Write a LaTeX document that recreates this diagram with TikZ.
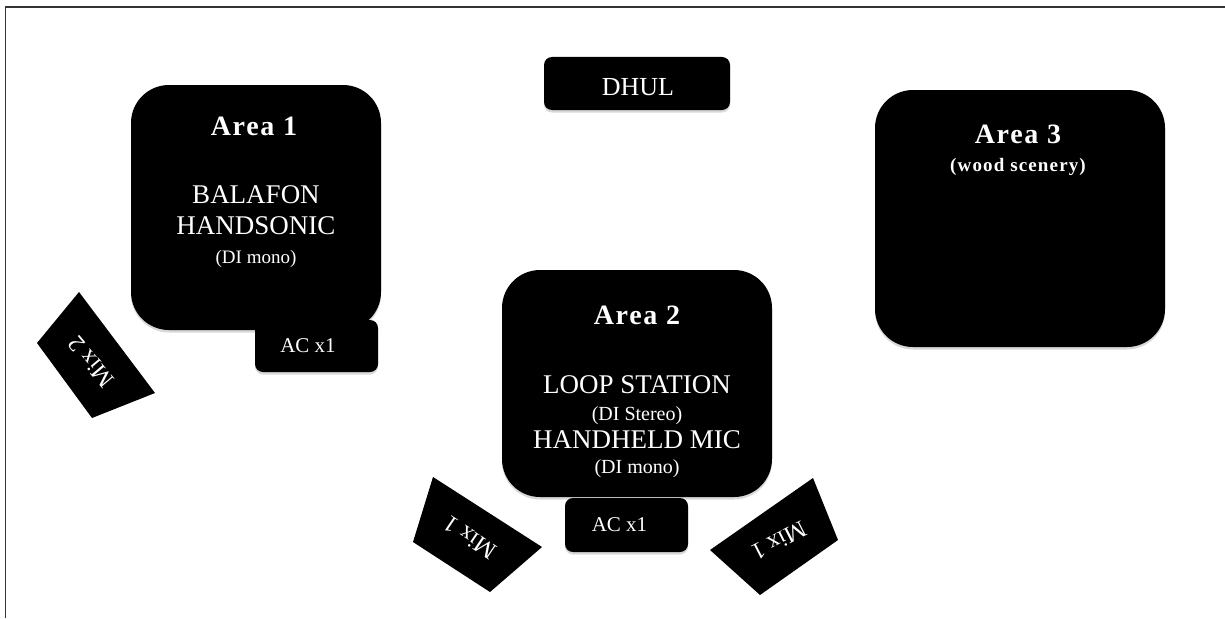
\documentclass[tikz,border=0pt]{standalone}
\usepackage{fontspec}
\setmainfont{Liberation Serif}
\newfontfamily\headfont[LetterSpace=6]{Liberation Serif}
\usetikzlibrary{shadows}
\newcommand{\fsz}[1]{\fontsize{#1}{#1}\selectfont}
\begin{document}
\begin{tikzpicture}[x=1pt,y=-1pt]
\tikzset{
  blk/.style={fill=black, draw=none, inner sep=0pt},
  shd/.style={drop shadow={opacity=0.3, shadow xshift=0pt, shadow yshift=-2.5pt}},
  area/.style={blk, shd, rounded corners=38pt},
  tag/.style={blk, shd, rounded corners=8pt},
  mixtxt/.style={text=white, inner sep=0pt, font=\fsz{24}},
  txt/.style={text=white, anchor=base, inner sep=0pt},
  head/.style={txt, font=\headfont\bfseries\fsz{28}},
  big/.style={txt, font=\fsz{27}},
  small/.style={txt, font=\fsz{19}},
}
\useasboundingbox (0,0) rectangle (1225,618);
\fill[white] (0,0) rectangle (1225,618);
\draw[line width=1.6pt, black!80] (5.5,618) -- (5.5,7) -- (1225,7);

% boxes
\node[area, minimum width=250pt, minimum height=245pt] (a1) at (256,207.5) {};
\node[tag, minimum width=123pt, minimum height=52pt] (ac1) at (316.5,346) {};
\node[tag, minimum width=186pt, minimum height=53pt] (dhul) at (637,83.5) {};
\node[area, minimum width=270pt, minimum height=227pt] (a2) at (637,383.5) {};
\node[tag, minimum width=123pt, minimum height=54pt] (ac2) at (626.5,525) {};
\node[area, minimum width=290pt, minimum height=257pt] (a3) at (1020,218.5) {};

% monitors (slightly skewed wedges)
\fill[black] (79,292) -- (155,393) -- (92,418) -- (37,343) -- cycle;
\fill[black] (433,477) -- (542,547) -- (490,592) -- (413,542) -- cycle;
\fill[black] (813,478) -- (838,540) -- (760,595) -- (710,550) -- cycle;
\node[mixtxt, rotate=130] (mix2) at (91,362) {Mix 2};
\node[mixtxt, rotate=146] (mix1l) at (470,538) {Mix 1};
\node[mixtxt, rotate=207] (mix1r) at (779,541) {Mix 1};

% texts area 1
\node[head] (a1h) at (254,135) {Area 1};
\node[big] (a1b) at (256,203) {BALAFON};
\node[big] (a1c) at (256,234) {HANDSONIC};
\node[small] (a1d) at (256,263) {(DI mono)};
\node[txt, font=\fsz{21}] (ac1t) at (308,352) {AC x1};

% DHUL
\node[txt, font=\fsz{26}] (dhult) at (638,95) {DHUL};

% texts area 2
\node[head] (a2h) at (637,324) {Area 2};
\node[big] (a2b) at (637,393) {LOOP STATION};
\node[txt, font=\fsz{20}] (a2c) at (637,420) {(DI Stereo)};
\node[big] (a2d) at (637,448) {HANDHELD MIC};
\node[txt, font=\fsz{20}] (a2e) at (637,473) {(DI mono)};
\node[txt, font=\fsz{21}] (ac2t) at (619.5,531) {AC x1};

% texts area 3
\node[head] (a3h) at (1018,143) {Area 3};
\node[txt, font=\headfont\bfseries\fsz{19}] (a3s) at (1018,171) {(wood scenery)};
\end{tikzpicture}
\end{document}
